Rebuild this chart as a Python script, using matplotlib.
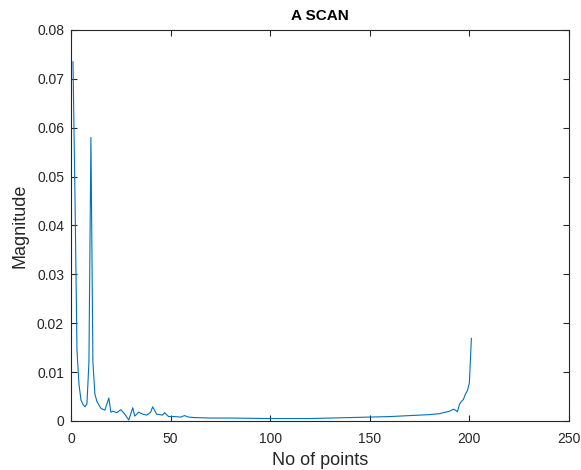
import matplotlib.pyplot as plt
from matplotlib.ticker import FuncFormatter

plt.rcParams['font.family'] = ['Liberation Sans', 'DejaVu Sans']

# sample index and magnitude
points = [1, 2, 3, 4, 5, 6, 7, 8, 9, 10, 11, 12, 13, 14, 15, 17, 19, 20, 21,
          23, 25, 27, 29, 31, 32, 34, 36, 38, 40, 41, 43, 46, 47, 49, 52, 55,
          57, 59, 62, 70, 80, 100, 120, 140, 150, 160, 170, 180, 185, 188,
          190, 192, 193, 194, 195, 196, 197, 198, 199, 200, 201]
magnitude = [0.0735, 0.046, 0.0145, 0.0075, 0.0043, 0.0034, 0.0029, 0.0035,
             0.012, 0.058, 0.012, 0.0055, 0.0040, 0.0033, 0.0026, 0.0022,
             0.0047, 0.0018, 0.0020, 0.0017, 0.0023, 0.0014, 0.0002, 0.0027,
             0.0010, 0.0018, 0.0014, 0.0012, 0.0018, 0.0029, 0.0014, 0.0012,
             0.0017, 0.0009, 0.0009, 0.0008, 0.0011, 0.0008, 0.0007, 0.0006,
             0.0006, 0.0005, 0.0005, 0.0007, 0.0008, 0.0009, 0.0011, 0.0013,
             0.0015, 0.0018, 0.0020, 0.0024, 0.0022, 0.0019, 0.0034, 0.0040,
             0.0044, 0.0055, 0.0062, 0.0078, 0.0169]

xticks = [0, 50, 100, 150, 200, 250]
yticks = [0, 0.01, 0.02, 0.03, 0.04, 0.05, 0.06, 0.07, 0.08]

fig = plt.figure(figsize=(5.81, 4.70), dpi=100)
ax = fig.add_axes([0.1222, 0.1043, 0.8571, 0.8319])

ax.plot(points, magnitude, color='#0072BD', linewidth=0.8)

ax.set_xlim(0, 250)
ax.set_ylim(0, 0.08)
ax.set_xticks(xticks)
ax.set_yticks(yticks)
ax.yaxis.set_major_formatter(FuncFormatter(lambda v, p: '0' if v == 0 else f'{v:.2f}'))

ax.tick_params(direction='in', length=4, width=0.8, colors='#262626',
               labelsize=10, top=True, right=True)
ax.tick_params(axis='x', pad=8)
ax.tick_params(axis='y', pad=5)
for s in ax.spines.values():
    s.set_color('#262626')
    s.set_linewidth(0.8)

ax.set_title('A SCAN', fontsize=11, fontweight='bold', color='#000000', pad=7)
ax.set_xlabel('No of points', fontsize=13, color='#262626', labelpad=4)
ax.set_ylabel('Magnitude', fontsize=13, color='#262626', labelpad=6)

plt.savefig('out.png', dpi=100)
